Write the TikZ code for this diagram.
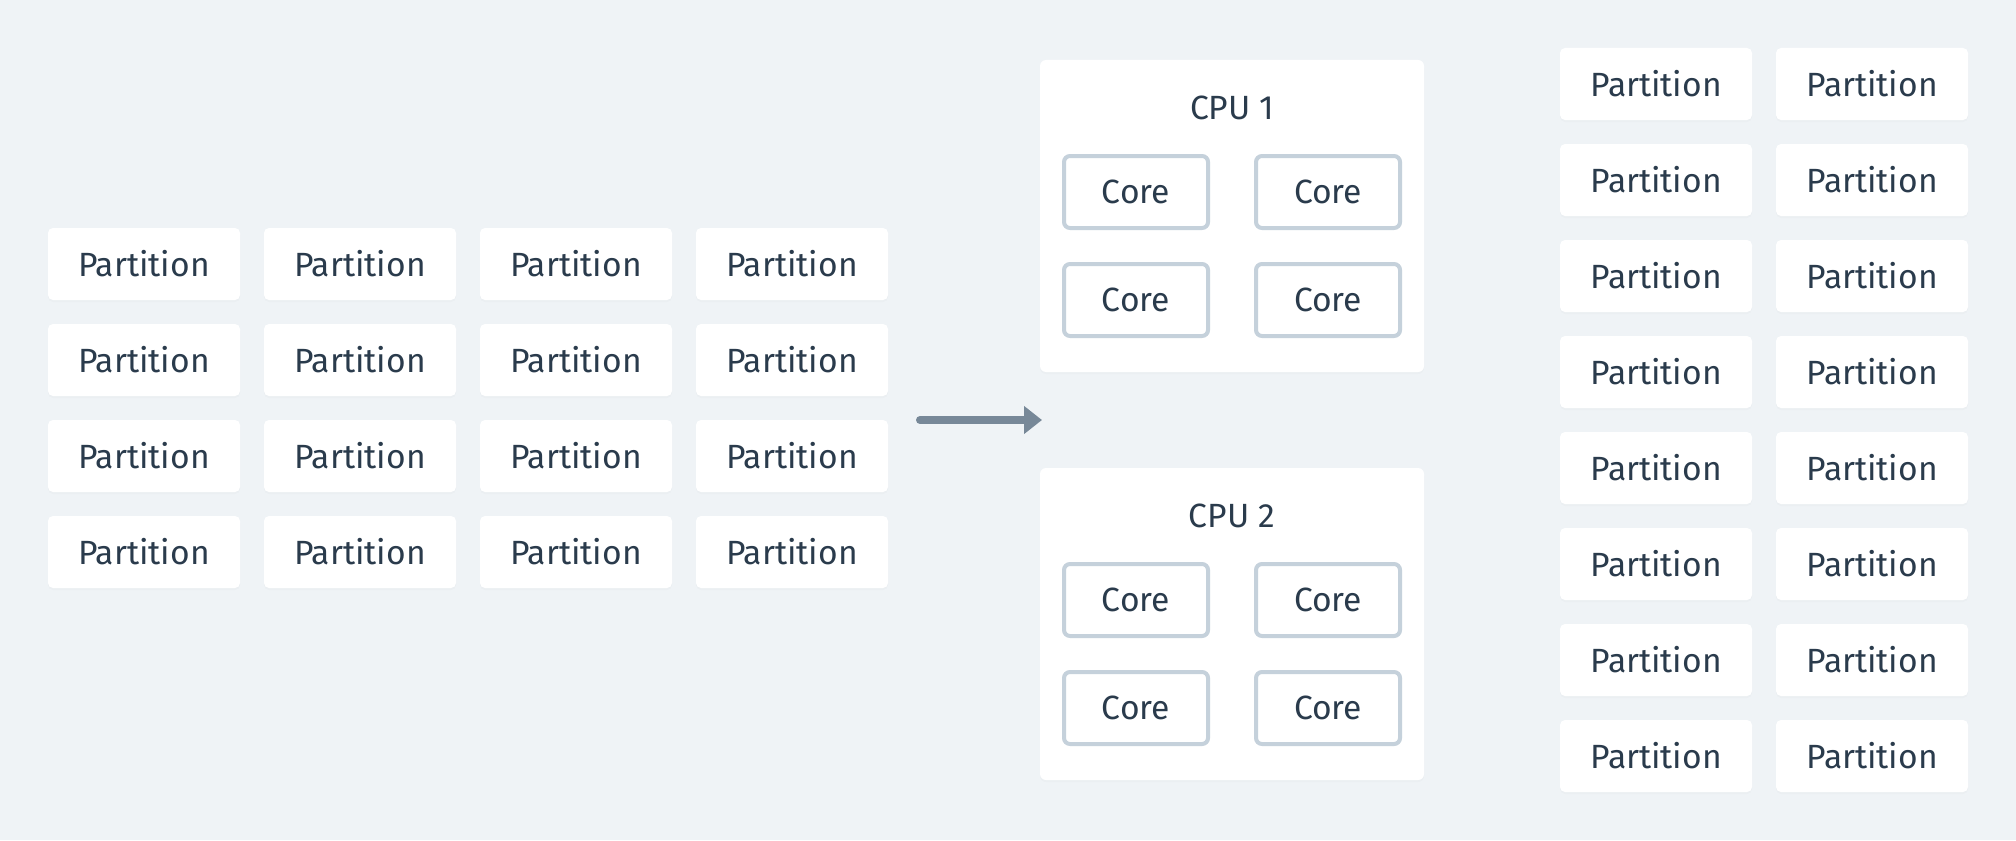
\documentclass[tikz,border=0pt]{standalone}
\usepackage{fontspec}
\setmainfont{Fira Sans}
\usetikzlibrary{arrows.meta,shadows}
\definecolor{bgcol}{HTML}{EFF3F6}
\definecolor{inkcol}{HTML}{2A3B4C}
\definecolor{corecol}{HTML}{C5D1DB}
\definecolor{arrowcol}{HTML}{778898}
\begin{document}
\begin{tikzpicture}[x=0.5pt, y=-0.5pt, font=\fontsize{16.8}{20}\selectfont,
    part/.style = {fill=white, rounded corners=2.5pt, minimum width=96pt, minimum height=36pt, inner sep=0pt, text=inkcol,
        drop shadow={shadow xshift=0pt, shadow yshift=-1pt, opacity=0.03}},
    cpu/.style = {fill=white, rounded corners=3pt, minimum width=192pt, minimum height=156pt, inner sep=0pt,
        drop shadow={shadow xshift=0pt, shadow yshift=-1pt, opacity=0.03}},
    core/.style = {draw=corecol, line width=2pt, fill=white, rounded corners=3pt, minimum width=72pt, minimum height=36pt, inner sep=0pt, text=inkcol},
    title/.style = {text=inkcol, inner sep=0pt},
    flow/.style = {draw=arrowcol, line width=4pt, line cap=round, -{Triangle[length=9pt,width=13.5pt]}}]
    % background
    \fill[bgcol] (0,0) rectangle (2016,840);
    % partitions on the left
    \foreach \r in {1,...,4}
        \foreach \c in {1,...,4}
            \node[part] (l\r\c) at ({144+216*(\c-1)}, {264+96*(\r-1)}) {Partition};
    % the two cpus
    \node[cpu] (cpu1) at (1232,216) {};
    \node[cpu] (cpu2) at (1232,624) {};
    \node[title] (t1) at (1232,108) {CPU 1};
    \node[title] (t2) at (1232,516) {CPU 2};
    \node[core] (c11) at (1136,192) {Core};
    \node[core] (c12) at (1328,192) {Core};
    \node[core] (c13) at (1136,300) {Core};
    \node[core] (c14) at (1328,300) {Core};
    \node[core] (c21) at (1136,600) {Core};
    \node[core] (c22) at (1328,600) {Core};
    \node[core] (c23) at (1136,708) {Core};
    \node[core] (c24) at (1328,708) {Core};
    % partitions on the right
    \foreach \r in {1,...,8}
        \foreach \c in {1,2}
            \node[part] (r\r\c) at ({1656+216*(\c-1)}, {84+96*(\r-1)}) {Partition};
    % arrow
    \coordinate (from) at (920,420);
    \coordinate (to) at (1042,420);
    \draw[flow] (from) -- (to);
\end{tikzpicture}
\end{document}
